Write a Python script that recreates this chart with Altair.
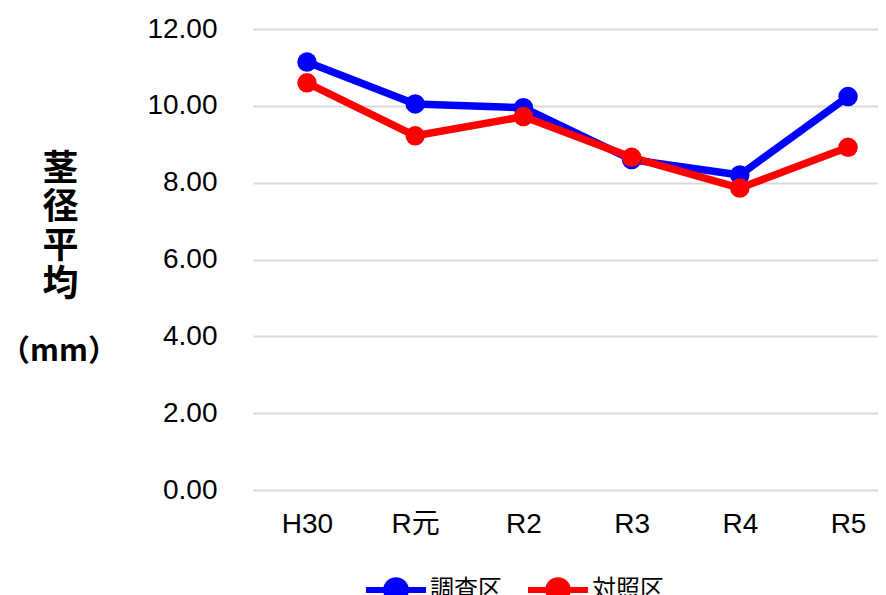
import json
import altair as alt
import pandas as pd

years = ["H30", "R元", "R2", "R3", "R4", "R5"]
series_names = ["調査区", "対照区"]
survey = [11.14, 10.05, 9.95, 8.60, 8.20, 10.24]
control = [10.60, 9.22, 9.72, 8.66, 7.86, 8.92]
y_ticks = [0, 2, 4, 6, 8, 10, 12]

rows = []
for name, vals in zip(series_names, [survey, control]):
    for i, (yr, v) in enumerate(zip(years, vals)):
        rows.append({"idx": i, "year": yr, "series": name, "value": v})
df = pd.DataFrame(rows)

FONT = "Liberation Sans, Arial, Noto Sans CJK JP"
CJK = "Noto Sans CJK JP"

legend_path = "M-1,0L1,0M-0.33,0a0.33,0.33 0 1,0 0.66,0a0.33,0.33 0 1,0 -0.66,0Z"

color = alt.Color(
    "series:N",
    scale=alt.Scale(domain=series_names, range=["#0000FF", "#FF0000"]),
    legend=alt.Legend(
        title=None,
        orient="none",
        direction="horizontal",
        legendX=110,
        legendY=528,
        padding=0,
        symbolType=legend_path,
        symbolSize=3600,
        symbolStrokeWidth=6,
        labelFont=CJK,
        labelFontSize=24,
        labelColor="#000000",
        labelOffset=1,
        columnPadding=14,
    ),
)

label_expr = json.dumps(years, ensure_ascii=False) + "[datum.value]"

base = alt.Chart(df).encode(
    x=alt.X(
        "idx:Q",
        scale=alt.Scale(domain=[-0.499, 5.277], nice=False, zero=False),
        axis=alt.Axis(
            title=None,
            values=list(range(len(years))),
            labelExpr=label_expr,
            labelFont=FONT,
            labelFontSize=28,
            labelColor="#000000",
            labelPadding=20,
            labelFlush=False,
            labelOverlap=False,
            ticks=False,
            domain=False,
            grid=False,
            labelAngle=0,
        ),
    ),
    y=alt.Y(
        "value:Q",
        scale=alt.Scale(domain=[0, 12], nice=False),
        axis=alt.Axis(
            values=y_ticks,
            format=".2f",
            labelFont=FONT,
            labelFontSize=28,
            labelColor="#000000",
            labelPadding=36,
            ticks=False,
            domain=False,
            gridColor="#d9d9d9",
            gridWidth=2,
            title=["茎", "径", "平", "均"],
            titleFont=CJK,
            titleFontSize=36,
            titleFontWeight="bold",
            titleColor="#000000",
            titleAngle=0,
            titleAlign="center",
            titleBaseline="top",
            titleLineHeight=38.5,
            titleX=-193,
            titleY=123,
        ),
    ),
    color=color,
    order="idx:Q",
)

chart = base.mark_line(
    strokeWidth=7.5,
    point=alt.OverlayMarkDef(filled=True, size=380, opacity=1),
).properties(
    width=625,
    height=461,
    padding={"left": 245, "top": 21, "right": 0, "bottom": 105},
    autosize=alt.AutoSizeParams(type="none"),
    title=alt.Title(
        "（mm）",
        font=CJK,
        fontSize=30,
        fontWeight="bold",
        color="#000000",
        anchor="start",
        frame="group",
        align="center",
        baseline="middle",
        orient="top",
        dx=-194,
        dy=367,
        offset=0,
    ),
).configure_view(stroke=None)

chart.save("out.html", embed_options={"renderer": "svg", "actions": False})
